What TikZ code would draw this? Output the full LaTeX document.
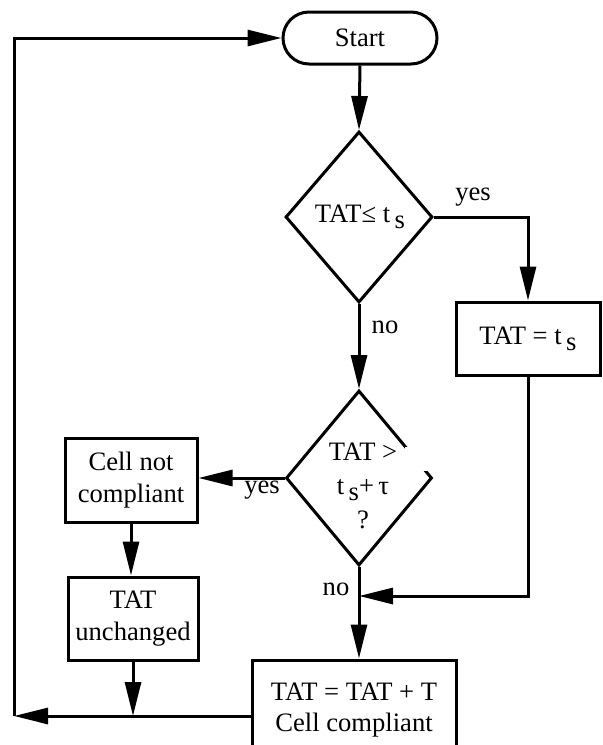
\documentclass[tikz,border=0pt]{standalone}
\usepackage{fontspec}
\setmainfont{Liberation Serif}
\usetikzlibrary{arrows.meta,shapes.geometric,shapes.misc}
\newcommand{\subs}{\raisebox{-3pt}{s}}
\begin{document}
\begin{tikzpicture}[x=0.5pt,y=-0.5pt,
  line width=1.5pt,
  every node/.style={font=\fontsize{13.3}{16}\selectfont},
  arr/.style={-{Triangle[length=17pt,width=8pt]}},
  box/.style={draw,rectangle,inner sep=0pt,align=center},
  dia/.style={draw,diamond,inner sep=0pt},
  term/.style={draw,rounded rectangle,inner sep=0pt},
  lbl/.style={inner sep=0pt}]
\useasboundingbox (0,0) rectangle (603,745);
\clip (0,0) rectangle (603,745);

% nodes
\node[term, minimum width=77pt, minimum height=26pt] (start) at (360,38) {Start};
\node[dia, minimum width=73.5pt, minimum height=85.5pt] (d1) at (359,217) {};
\node[lbl, anchor=base] (d1t) at (360,222) {TAT≤ t\,\subs};
\node[box, minimum width=72pt, minimum height=36.5pt] (ts) at (528,338.5) {TAT = t\,\subs};
\node[dia, minimum width=73pt, minimum height=87.5pt] (d2) at (359,478) {};
\fill[white] (405,447) rectangle (440,471);
\node[lbl, align=center, font=\fontsize{13.3}{17}\selectfont] (d2t) at (363,486) {TAT >\\t\,\subs+\,τ\\?};
\node[box, minimum width=66pt, minimum height=42pt, font=\fontsize{13.3}{16}\selectfont] (cnc) at (131,480) {Cell not\\compliant};
\node[box, minimum width=65pt, minimum height=41.5pt, font=\fontsize{13.3}{16}\selectfont] (tu) at (133,618.5) {TAT\\unchanged};
\node[box, minimum width=102pt, minimum height=50pt, font=\fontsize{13.3}{15.5}\selectfont] (fin) at (354,710) {TAT = TAT + T\\Cell compliant};

% labels
\node[lbl] (yes1) at (473,197) {yes};
\node[lbl] (no1) at (385,327) {no};
\node[lbl] (yes2) at (262,490) {yes};
\node[lbl] (no2) at (336,589) {no};

% helper coordinates
\coordinate (mr) at (528,596);
\coordinate (bl) at (14,716);
\coordinate (tl) at (14,38);

% connectors
\draw[arr] (start.south) -- (d1.north);
\draw[arr] (d1.east) -| (ts.north);
\draw[arr] (d1.south) -- (d2.north);
\draw[arr] (d2.west) -- (d2.west -| cnc.east);
\draw[arr] (cnc.south) -- (cnc.south |- tu.north);
\draw[arr] (d2.south) -- (d2.south |- fin.north);
\draw[arr] (ts.south) -- (mr) -- (mr -| d2.south);
\draw[arr] (tu.south) -- (tu.south |- bl);
\draw[arr] (fin.west |- bl) -- (bl);
\draw[arr] (bl) -- (tl) -- (start.west);
\end{tikzpicture}
\end{document}
